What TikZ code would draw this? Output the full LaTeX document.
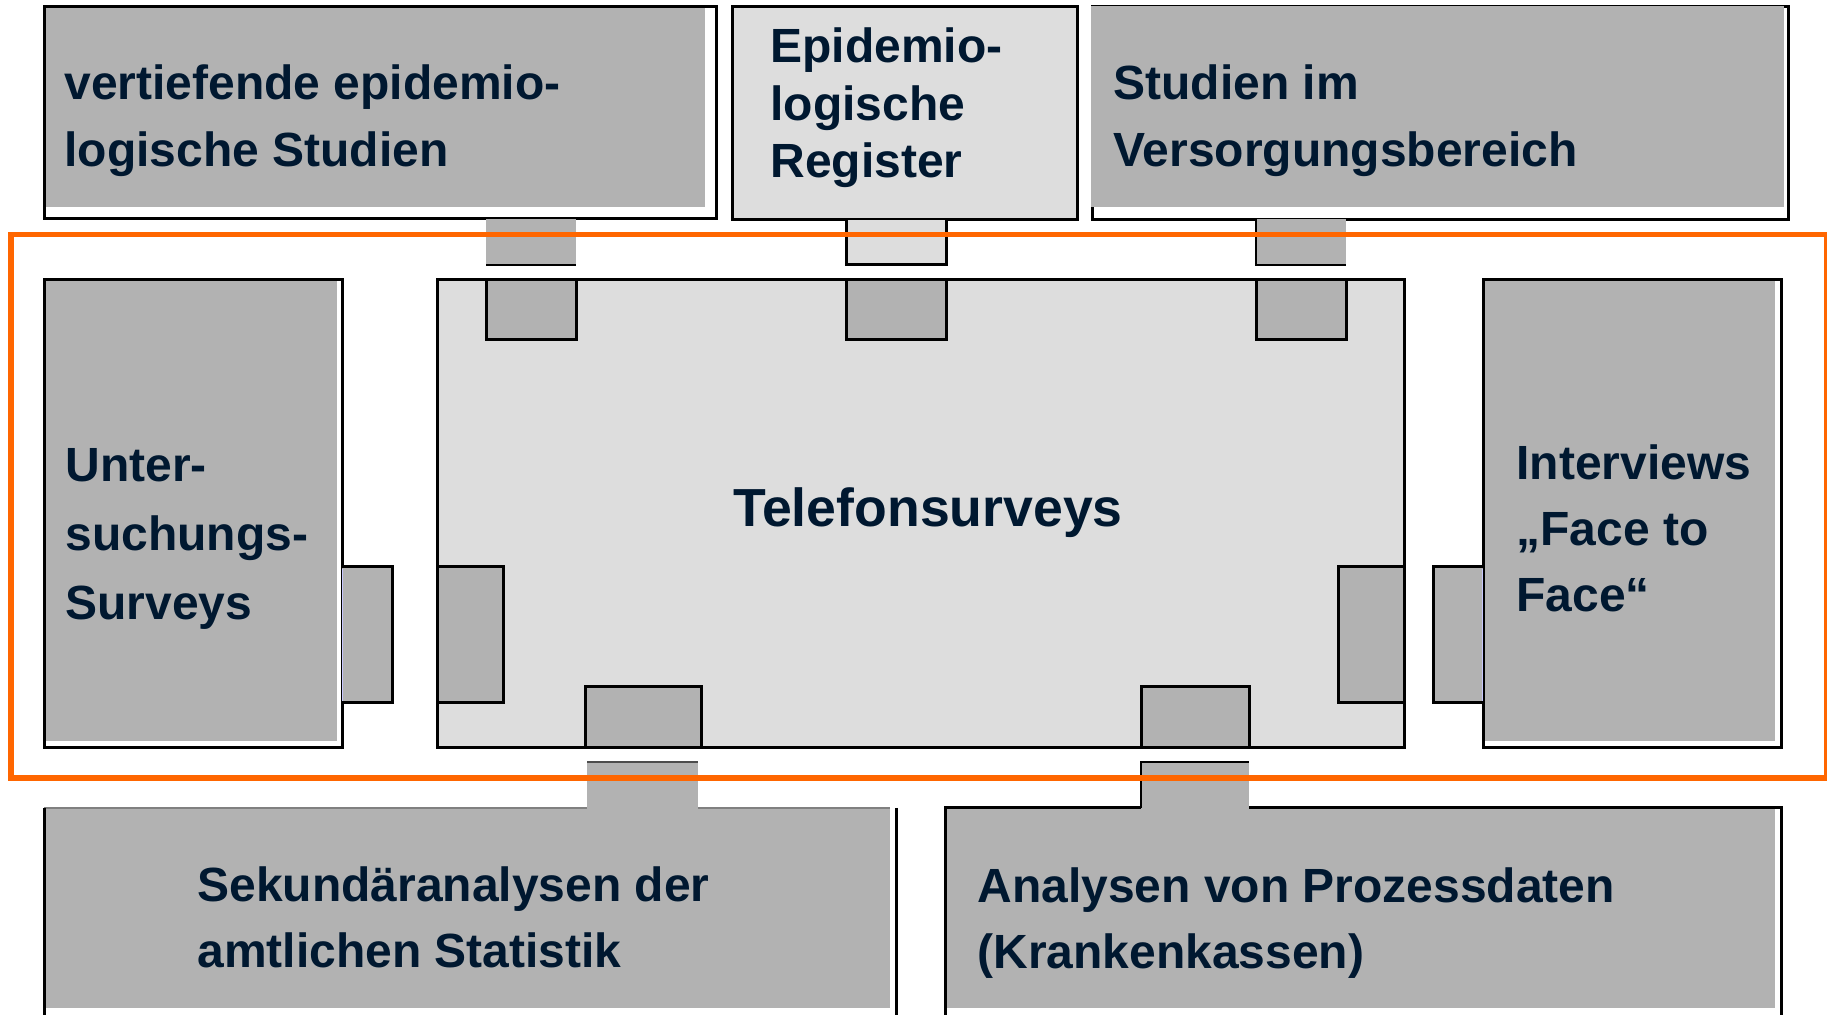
\documentclass[tikz,border=0pt]{standalone}
\usepackage{fontspec}
\setmainfont{Liberation Sans}
\definecolor{navy}{HTML}{001830}
\definecolor{dgray}{HTML}{B2B2B2}
\definecolor{lgray}{HTML}{DDDDDD}
\definecolor{orng}{HTML}{FF6600}
\definecolor{lav}{HTML}{C8C8FF}
\begin{document}
\begin{tikzpicture}[x=0.5pt,y=-0.5pt,
  bord/.style={draw=black, line width=1.5pt},
  thinb/.style={draw=black, line width=0.9pt},
  lbl/.style={anchor=base west, inner sep=0pt, align=left, text=navy},
  f/.style={font=\bfseries\fontsize{24}{#1}\selectfont}]
\useasboundingbox (0,0) rectangle (1827,1015);
\fill[white] (0,0) rectangle (1827,1015);

% ---- top row ----
% box 1
\fill[white] (44,7) rectangle (716,219);
\fill[dgray] (44,7) rectangle (705,207);
\draw[bord] (44,7) rectangle (716,219);
\node[lbl, f=33.5pt] (t1) at (64,167) {vertiefende epidemio-\\logische Studien};
% box 2
\filldraw[fill=lgray, bord] (732,7) rectangle (1077,220);
\node[lbl, f=28.8pt] (t2) at (770,178) {Epidemio-\\logische\\Register};
% box 3
\fill[white] (1092,7) rectangle (1788,220);
\draw[bord] (1092,7) rectangle (1788,220);
\fill[dgray] (1091,6) rectangle (1784,207);
\node[lbl, f=33.5pt] (t3) at (1113,167) {Studien im\\Versorgungsbereich};

% top connectors
\fill[dgray] (486,219) rectangle (576,265);
\draw[thinb] (486,265) -- (576,265);
\filldraw[fill=lgray, bord] (846,220) -- (846,265) -- (946,265) -- (946,220);
\fill[dgray] (1256,219) rectangle (1346,265);
\draw[thinb] (1256,219) -- (1256,265) -- (1346,265);

% ---- middle row ----
% Unter box
\fill[white] (44,280) rectangle (342,748);
\fill[dgray] (44,280) rectangle (337,741);
\draw[bord] (44,280) rectangle (342,748);
\node[lbl, f=34.5pt] (t4) at (65,619.5) {Unter-\\suchungs-\\Surveys};
% Unter tab
\fill[dgray] (342,567) rectangle (392,703);
\draw[bord] (342,567) -- (392,567) -- (392,703) -- (342,703);
\draw[lav, line width=0.9pt] (342.5,569) -- (342.5,701);

% Interviews box
\fill[white] (1483,280) rectangle (1781,748);
\fill[dgray] (1483,280) rectangle (1775,741);
\draw[bord] (1483,280) rectangle (1781,748);
\node[lbl, f=33pt] (t5) at (1516,611.5) {Interviews\\„Face to\\Face“};
% Interviews tab
\fill[dgray] (1433,567) rectangle (1483,703);
\draw[bord] (1483,567) -- (1433,567) -- (1433,703) -- (1483,703);
\draw[lav, line width=0.9pt] (1482.5,569) -- (1482.5,701);

% center box
\filldraw[fill=lgray, bord] (437,280) rectangle (1404,748);
\node[anchor=base, inner sep=0pt, text=navy, font=\bfseries\fontsize{26.8}{30}\selectfont] (tel) at (928,527) {Telefonsurveys};
% inner tabs
\filldraw[fill=dgray, bord] (486,280) rectangle (576,340);
\filldraw[fill=dgray, bord] (846,280) rectangle (946,340);
\filldraw[fill=dgray, bord] (1256,280) rectangle (1346,340);
\filldraw[fill=dgray, bord] (437,567) rectangle (503,703);
\filldraw[fill=dgray, bord] (1338,567) rectangle (1404,703);
\filldraw[fill=dgray, bord] (585,687) rectangle (701,748);
\filldraw[fill=dgray, bord] (1141,687) rectangle (1249,748);

% ---- bottom row ----
% Sekundaer box
\fill[white] (44,808) rectangle (896,1020);
\fill[dgray] (44,808) rectangle (890,1008);
\draw[gray, line width=0.6pt] (44,808) -- (890,808);
\draw[bord] (44,808) -- (44,1020);
\draw[bord] (896,808) -- (896,1020);
\fill[dgray] (587,762) rectangle (698,809);
\draw[black!70, line width=0.6pt] (587,762) -- (698,762);
\node[lbl, f=32.8pt] (t6) at (197,967.5) {Sekundäranalysen der\\amtlichen Statistik};
% Analysen box
\fill[white] (945,808) rectangle (1781,1020);
\fill[dgray] (945,808) rectangle (1775,1008);
\draw[bord] (945,1020) -- (945,808) -- (1781,808) -- (1781,1020);
\fill[dgray] (1141,762) rectangle (1249,809.5);
\draw[thinb] (1141,808) -- (1141,762) -- (1249,762);
\node[lbl, f=33pt] (t7) at (977,968) {Analysen von Prozessdaten\\(Krankenkassen)};

% orange frame
\draw[orng, line width=2.6pt] (11,234.5) rectangle (1827,778);
\end{tikzpicture}
\end{document}
